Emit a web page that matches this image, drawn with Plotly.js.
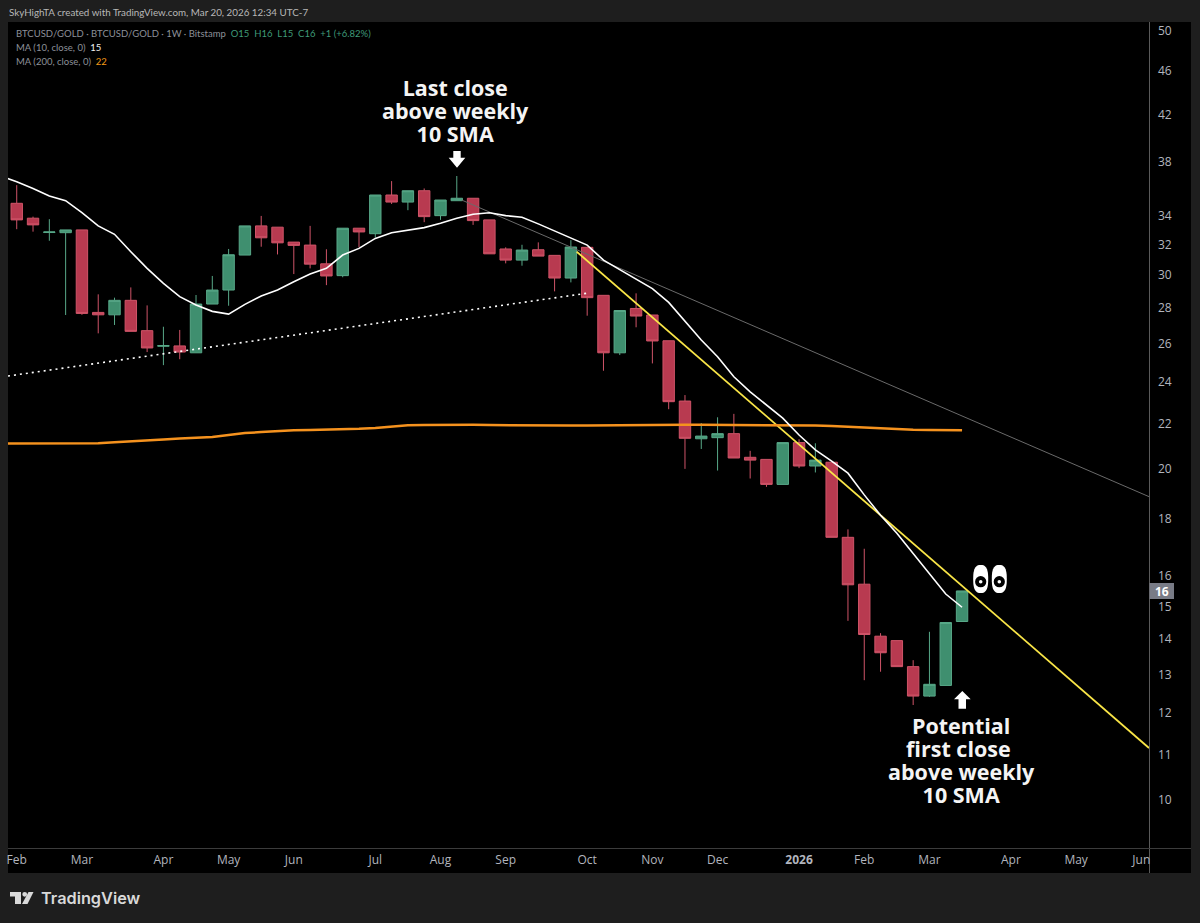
<!DOCTYPE html>
<html>
<head>
<meta charset="utf-8">
<title>BTCUSD/GOLD</title>
<script src="https://cdn.plot.ly/plotly-3.0.1.min.js"></script>
<style>html,body{margin:0;padding:0;background:#1e1e1e;overflow:hidden}#chart{width:1200px;height:923px}</style>
</head>
<body>
<div id="chart"></div>
<script>
// Weekly bar dates
const weeks = ['2025-02-03','2025-02-10','2025-02-17','2025-02-24','2025-03-03','2025-03-10','2025-03-17','2025-03-24','2025-03-31','2025-04-07','2025-04-14','2025-04-21','2025-04-28','2025-05-05','2025-05-12','2025-05-19','2025-05-26','2025-06-02','2025-06-09','2025-06-16','2025-06-23','2025-06-30','2025-07-07','2025-07-14','2025-07-21','2025-07-28','2025-08-04','2025-08-11','2025-08-18','2025-08-25','2025-09-01','2025-09-08','2025-09-15','2025-09-22','2025-09-29','2025-10-06','2025-10-13','2025-10-20','2025-10-27','2025-11-03','2025-11-10','2025-11-17','2025-11-24','2025-12-01','2025-12-08','2025-12-15','2025-12-22','2025-12-29','2026-01-05','2026-01-12','2026-01-19','2026-01-26','2026-02-02','2026-02-09','2026-02-16','2026-02-23','2026-03-02','2026-03-09','2026-03-16'];
const open_ = [34.87,33.80,32.80,32.79,32.98,27.75,27.61,28.46,26.71,25.85,25.87,25.50,28.24,29.08,31.29,33.26,33.17,32.15,31.95,30.72,29.97,33.10,32.72,35.48,34.96,35.80,33.98,35.06,35.24,33.68,31.69,30.96,31.64,31.27,29.82,31.80,28.76,25.50,27.98,27.60,26.15,23.05,21.30,21.35,21.53,20.49,20.40,19.36,21.13,20.12,20.28,17.33,15.71,14.09,13.96,13.22,12.43,12.71,14.53];
const high = [36.22,33.91,33.73,32.98,32.98,28.82,28.62,29.24,28.16,26.93,26.75,28.78,29.95,31.69,33.26,33.96,33.17,32.15,33.26,31.67,33.10,33.10,35.48,36.53,35.80,35.97,35.11,36.92,35.24,33.68,31.80,31.97,32.13,31.27,32.28,31.80,28.76,27.86,28.88,27.60,26.15,23.34,22.01,22.28,22.44,20.77,20.40,21.13,21.28,21.10,20.28,17.62,16.92,14.18,13.96,13.40,14.22,14.50,15.49];
const low = [33.03,32.86,32.24,27.60,27.61,26.56,27.03,26.67,25.54,24.85,25.16,25.50,28.24,28.14,31.29,31.84,31.33,30.07,30.43,29.38,29.87,31.80,32.46,34.82,34.37,33.52,33.68,35.06,33.33,31.37,30.75,30.60,31.22,29.00,29.55,27.56,24.56,25.38,26.90,24.94,22.66,20.00,20.85,19.93,20.46,19.60,19.26,19.36,20.03,19.85,17.33,14.55,12.85,13.08,13.22,12.20,12.41,12.71,14.53];
const close_ = [33.68,33.33,32.84,32.98,27.69,27.61,28.46,26.67,25.76,25.89,25.54,28.24,29.08,31.31,33.26,32.44,32.10,31.93,30.70,29.95,33.10,32.84,35.48,34.96,35.80,33.91,35.11,35.24,33.63,31.37,30.96,31.62,31.22,29.82,31.82,28.62,25.50,27.86,27.54,26.14,23.02,21.32,21.42,21.53,20.46,20.37,19.36,21.13,20.12,20.37,17.33,15.69,14.14,13.61,13.22,12.43,12.74,14.50,15.49];
// Moving averages (first value belongs to the week before the first bar)
const maWeeks = ['2025-01-27'].concat(weeks);
const ma10 = [36.92,36.48,35.97,35.40,35.06,34.19,33.26,32.68,31.51,30.43,29.49,28.68,28.18,27.81,27.65,28.22,28.72,29.08,29.59,30.07,30.43,31.29,31.73,32.40,32.79,32.98,33.14,33.45,33.80,34.08,34.19,33.98,33.87,33.40,32.91,32.46,31.95,30.96,30.37,29.74,29.17,28.34,27.22,26.19,25.29,24.25,23.50,22.86,22.24,21.47,20.81,20.33,19.82,18.94,18.15,17.48,16.75,16.05,15.39,14.97];
const ma200 = [21.09,21.09,21.09,21.09,21.09,21.09,21.10,21.15,21.20,21.24,21.27,21.31,21.33,21.38,21.47,21.56,21.60,21.65,21.68,21.70,21.71,21.72,21.75,21.79,21.86,21.91,21.92,21.93,21.93,21.93,21.92,21.91,21.90,21.89,21.88,21.90,21.90,21.91,21.92,21.92,21.93,21.93,21.93,21.93,21.93,21.93,21.93,21.93,21.93,21.92,21.90,21.88,21.84,21.81,21.78,21.74,21.71,21.70,21.69,21.68];
// Drawn trendlines
const yellowDates = ['2025-10-01 12:00','2026-06-04 07:00'];
const yellowVals = [31.51,11.15];
const grayDates = ['2025-08-13 02:00','2026-06-04 07:00'];
const grayVals = [35.11,18.87];
const dottedDates = ['2025-01-30 06:00','2025-10-05 14:00'];
const dottedVals = [24.29,28.88];
// Axis labels
const xTickVals = ['2025-02-03','2025-03-03','2025-04-07','2025-05-05','2025-06-02','2025-07-07','2025-08-04','2025-09-01','2025-10-06','2025-11-03','2025-12-01','2026-01-05','2026-02-02','2026-03-02','2026-04-06','2026-05-04','2026-06-01'];
const xTickText = ['Feb','Mar','Apr','May','Jun','Jul','Aug','Sep','Oct','Nov','Dec','<b>2026</b>','Feb','Mar','Apr','May','Jun'];
const yTicks = [50,46,42,38,34,32,30,28,26,24,22,20,18,16,15,14,13,12,11,10];

const LEFT = 8, RIGHT = 1149, TOP = 23, BOTTOM = 848;
const fx = p => (p - LEFT) / (RIGHT - LEFT);
const fy = p => (BOTTOM - p) / (BOTTOM - TOP);
const FONT = '"Open Sans", "Noto Sans", sans-serif';
const SMALL = 'Lato, "Open Sans", sans-serif';

function poly(pts, fill, layer) {
  const d = pts.map((p, i) => (i ? 'L' : 'M') + fx(p[0]) + ',' + fy(p[1])).join(' ') + ' Z';
  return {type:'path', xref:'paper', yref:'paper', path:d, fillcolor:fill, line:{width:0}, layer:layer||'above'};
}
function rect(x0,y0,x1,y1,fill,layer) {
  return {type:'rect', xref:'paper', yref:'paper', x0:fx(x0), x1:fx(x1), y0:fy(y0), y1:fy(y1), fillcolor:fill, line:{width:0}, layer:layer||'below'};
}
function ell(cx,cy,rx,ry,fill) {
  return {type:'circle', xref:'paper', yref:'paper', x0:fx(cx-rx), x1:fx(cx+rx), y0:fy(cy+ry), y1:fy(cy-ry), fillcolor:fill, line:{width:0}, layer:'above'};
}
function pill(cx,cy,rx,ry,fill) { // rounded eye outline
  const pts = [];
  for (let i = 0; i < 48; i++) {
    const t = i / 48 * 2 * Math.PI, c = Math.cos(t), s = Math.sin(t);
    pts.push([cx + rx * Math.sign(c) * Math.pow(Math.abs(c), 0.75), cy + ry * Math.sign(s) * Math.pow(Math.abs(s), 0.75)]);
  }
  return poly(pts, fill);
}
function label(px,py,text,size,color,opts) {
  return Object.assign({xref:'paper', yref:'paper', x:fx(px), y:fy(py), text:text, showarrow:false,
    xanchor:'left', yanchor:'middle', borderpad:0, font:{family:SMALL, size:size, color:color}}, opts||{});
}
function big(cx,py,text) {
  return label(cx,py,text,21.5,'#f4f4f4',{xanchor:'center', yanchor:'top', align:'center', font:{family:FONT,size:21.5,color:'#f4f4f4',weight:700}});
}

const shapes = [
  rect(8,22,1191,873,'#000000'),
  rect(1149,22,1150,873,'#5a5a5a'),
  rect(8,848,1191,849,'#3c3c3c'),
  // down arrow
  poly([[453.3,151],[460.7,151],[460.7,157.7],[465.3,157.7],[457,167.7],[448.7,157.7],[453.3,157.7]],'#ffffff'),
  // up arrow
  poly([[962.3,691],[970.7,699.3],[966,699.3],[966,708.7],[958.5,708.7],[958.5,699.3],[954,699.3]],'#ffffff'),
  // eyes
  pill(980.7,579,7.5,14,'#ffffff'), pill(999.3,579,7.5,14,'#ffffff'),
  ell(980.7,581.7,5.6,5.6,'#000000'), ell(999.3,581.7,5.6,5.6,'#000000'),
  ell(980.7,581.7,1.8,1.8,'#ffffff'), ell(999.3,581.7,1.8,1.8,'#ffffff'),
  // price tag
  rect(1149.5,583,1174,599,'#787b86','above'),
  // TradingView logo
  poly([[10,892],[21,892],[21,904],[15,904],[15,896.5],[10,896.5]],'#d9d9d9'),
  ell(24.7,894.3,2.4,2.4,'#d9d9d9'),
  poly([[28.5,892],[33.5,892],[27.5,904],[22,904]],'#d9d9d9')
];

const annotations = [
  label(8,12,'SkyHighTA created with TradingView.com, Mar 20, 2026 12:34 UTC-7',9.8,'#b8b8b8'),
  label(14.5,34,'BTCUSD/GOLD · BTCUSD/GOLD · 1W · Bitstamp  <span style="color:#3f9a78">O15  H16  L15  C16  +1 (+6.82%)</span>',9.5,'#8d9099'),
  label(14.5,48,'MA (10, close, 0)  <span style="color:#f0f0f0">15</span>',9.5,'#8d9099'),
  label(14.5,62,'MA (200, close, 0)  <span style="color:#f29a18">22</span>',9.5,'#8d9099'),
  big(455,72,'Last close<br>above weekly<br>10 SMA'),
  big(961.7,710,'Potential<br>first close&nbsp;<br>above weekly<br>10 SMA'),
  label(1161.5,591,'<b>16</b>',12,'#ffffff',{xanchor:'center', font:{family:FONT,size:12,color:'#ffffff'}}),
  label(40,898,'TradingView',16.3,'#d9d9d9',{font:{family:'Inter, "Open Sans", sans-serif',size:16.3,color:'#d9d9d9',weight:600}})
];

const traces = [
  {type:'candlestick', x:weeks, open:open_, high:high, low:low, close:close_, whiskerwidth:0,
   increasing:{line:{color:'#58a888',width:1}, fillcolor:'#3f8f6f'},
   decreasing:{line:{color:'#cf5468',width:1}, fillcolor:'#b83a50'}, hoverinfo:'skip'},
  {type:'scatter', mode:'lines', x:grayDates, y:grayVals, line:{color:'#6a6a6a',width:1}, hoverinfo:'skip'},
  {type:'scatter', mode:'lines', x:dottedDates, y:dottedVals, line:{color:'#ffffff',width:1.6,dash:'2px,4px'}, hoverinfo:'skip'},
  {type:'scatter', mode:'lines', x:yellowDates, y:yellowVals, line:{color:'#f9e547',width:1.8}, hoverinfo:'skip'},
  {type:'scatter', mode:'lines', x:maWeeks, y:ma200, line:{color:'#f5921e',width:2.5}, hoverinfo:'skip'},
  {type:'scatter', mode:'lines', x:maWeeks, y:ma10, line:{color:'#ffffff',width:1.6}, hoverinfo:'skip'}
];

const layout = {
  width:1200, height:923, autosize:false, showlegend:false,
  paper_bgcolor:'#1e1e1e', plot_bgcolor:'#000000',
  margin:{l:LEFT, r:1200-RIGHT, t:TOP, b:923-BOTTOM, pad:0},
  font:{family:FONT, color:'#b2b5be', size:12},
  xaxis:{type:'date', range:['2025-01-30 06:00','2026-06-04 07:00'], rangeslider:{visible:false},
    tickmode:'array', tickvals:xTickVals, ticktext:xTickText, showgrid:false, zeroline:false,
    showline:false, ticks:'', ticklabelstandoff:3, tickfont:{family:FONT,size:12,color:'#b2b5be'}},
  yaxis:{type:'log', side:'right', range:[0.95636,1.70636], tickmode:'array', tickvals:yTicks,
    ticktext:yTicks.map(String), showgrid:false, zeroline:false, showline:false, ticks:'',
    ticklabelstandoff:8, tickfont:{family:FONT,size:12,color:'#b2b5be'}},
  boxgap:0.3, boxgroupgap:0, shapes:shapes, annotations:annotations
};
Plotly.newPlot('chart', traces, layout, {displayModeBar:false, staticPlot:true}).then(function(){
  // tighten the line spacing of the multi-line callouts to the reference's
  document.querySelectorAll('.annotation-text tspan.line').forEach(function(t){
    const dy = parseFloat(t.getAttribute('dy') || '0');
    t.setAttribute('dy', (dy * 1.07 / 1.3) + 'em');
  });
});
</script>
</body>
</html>
